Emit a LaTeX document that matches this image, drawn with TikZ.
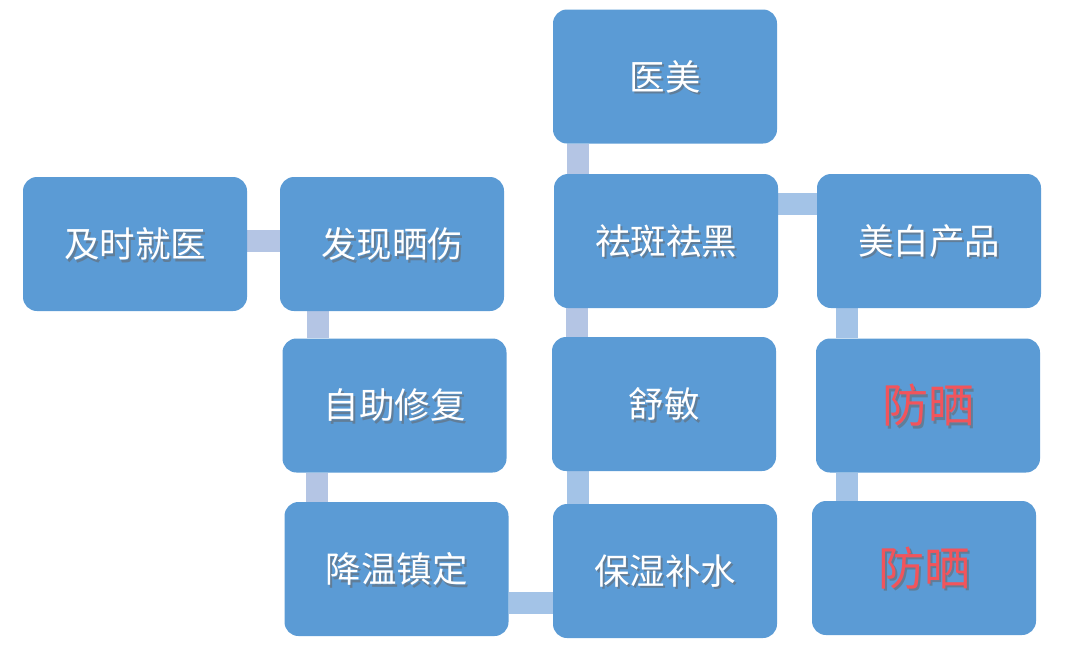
\documentclass[tikz,border=0pt]{standalone}
\usepackage{fontspec}
\newfontfamily\cjk{Noto Sans CJK SC}
\usetikzlibrary{backgrounds}
\definecolor{boxblue}{HTML}{5B9BD5}
\definecolor{bargray}{HTML}{B4C5E4}
\definecolor{barblue}{HTML}{A3C3E7}
\definecolor{redtxt}{HTML}{F2545B}
\tikzset{
  box/.style={fill=boxblue, rounded corners=14pt, minimum width=224pt, minimum height=134pt, inner sep=0pt},
  shadowtxt/.style={text=black!60, opacity=0.55, inner sep=0pt},
  bar/.style={line width=22pt, draw=bargray},
  barb/.style={line width=22pt, draw=barblue}
}
\newcommand\mybox[5]{%
  \node[box, text=#4, font=\cjk\fontsize{#5}{#5}\selectfont, path picture={\node[shadowtxt, font=\cjk\fontsize{#5}{#5}\selectfont] at ([xshift=2pt,yshift=-2.5pt]path picture bounding box.center) {#3};}] (#1) at (#2) {#3};}
\begin{document}
\begin{tikzpicture}[x=1pt,y=-1pt]
\useasboundingbox (0,0) rectangle (1076,664);
\mybox{jszy}{135,244}{及时就医}{white}{35.5}
\mybox{fxss}{392,244}{发现晒伤}{white}{35.5}
\mybox{zzxf}{394.5,405.5}{自助修复}{white}{35.5}
\mybox{jwzd}{396.5,569}{降温镇定}{white}{35.5}
\mybox{ym}{665,76.5}{医美}{white}{35.5}
\mybox{qbqh}{666,241}{祛斑祛黑}{white}{35.5}
\mybox{sm}{664,404}{舒敏}{white}{35.5}
\mybox{bsbs}{665,571}{保湿补水}{white}{35.5}
\mybox{mbcp}{929,241}{美白产品}{white}{35.5}
\mybox{fsa}{928,405.5}{防晒}{redtxt}{46}
\mybox{fsb}{924,568}{防晒}{redtxt}{46}
\begin{scope}[on background layer]
\draw[bar] ([yshift=3pt]jszy.east) -- ([yshift=3pt]jszy.east -| fxss.west);
\draw[bar] ([xshift=38pt]fxss.south west) -- ([xshift=38pt]fxss.south west |- zzxf.north);
\draw[bar] ([xshift=35pt]zzxf.south west) -- ([xshift=35pt]zzxf.south west |- jwzd.north);
\draw[barb] ([yshift=-34pt]jwzd.east) -- ([yshift=-34pt]jwzd.east -| bsbs.west);
\draw[barb] ([xshift=25pt]bsbs.north west) -- ([xshift=25pt]bsbs.north west |- sm.south);
\draw[bar] ([xshift=25pt]sm.north west) -- ([xshift=25pt]sm.north west |- qbqh.south);
\draw[bar] ([xshift=24pt]qbqh.north west) -- ([xshift=24pt]qbqh.north west |- ym.south);
\draw[barb] ([yshift=-30pt]qbqh.north east) -- ([yshift=-30pt]qbqh.north east -| mbcp.west);
\draw[barb] ([xshift=30pt]mbcp.south west) -- ([xshift=30pt]mbcp.south west |- fsa.north);
\draw[barb] ([xshift=31pt]fsa.south west) -- ([xshift=31pt]fsa.south west |- fsb.north);
\end{scope}
\end{tikzpicture}
\end{document}
